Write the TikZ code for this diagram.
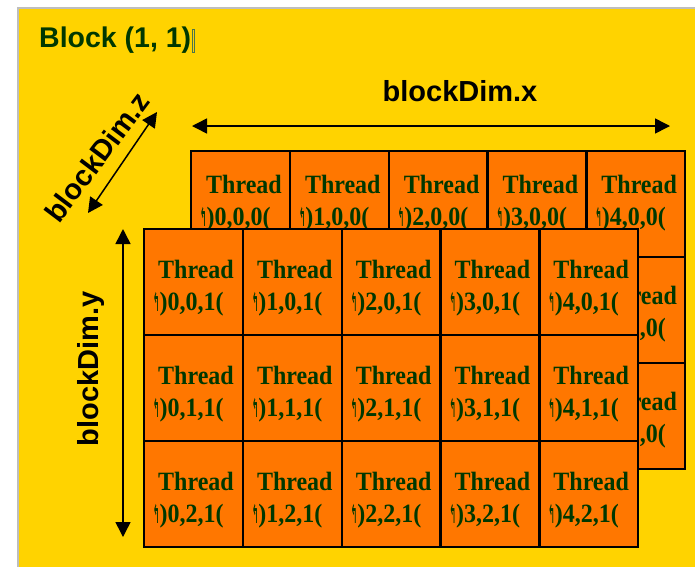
\documentclass[tikz,border=0pt]{standalone}
\usepackage{fontspec}
\setmainfont{Liberation Serif}
\setsansfont{Liberation Sans}
\newfontfamily\symfont{DejaVu Sans}
\usetikzlibrary{arrows.meta}

\definecolor{blockbg}{RGB}{255,211,0}
\definecolor{cellfill}{RGB}{255,119,0}
\definecolor{threadtext}{RGB}{0,56,0}
\definecolor{frameline}{RGB}{190,190,190}

% thin hooked mark in front of each thread index
\newcommand\hookmark{\raisebox{-1.5pt}{\scalebox{0.35}[1.05]{\symfont\fontsize{22}{22}\selectfont ↰}}}
% thread text, set slightly tall
\newcommand\tallbf[1]{\scalebox{1}[1.1]{#1}}

\tikzset{
  cell/.style={draw=black, line width=2.4pt, fill=cellfill,
    minimum width=98.8pt, minimum height=106pt, inner sep=0pt, anchor=north west},
  threadlbl/.style={font=\fontsize{24}{24}\selectfont\bfseries, text=threadtext,
    anchor=base west, inner sep=0pt},
  dimlbl/.style={font=\sffamily\bfseries\fontsize{29}{29}\selectfont, text=black, inner sep=0pt},
  dimarrow/.style={{Triangle[length=15pt,width=15pt]}-{Triangle[length=15pt,width=15pt]},
    line width=1.5pt},
}

\begin{document}
\begin{tikzpicture}[x=1pt, y=-1pt]
\useasboundingbox (0,0) rectangle (695,566);
\fill[white] (0,0) rectangle (695,566);

% block background
\draw[frameline, line width=2pt, fill=blockbg] (18,8) rectangle (720,590);
\node[font=\sffamily\bfseries\fontsize{28.5}{28.5}\selectfont, text=threadtext,
  anchor=base west, inner sep=0pt] (title) at (39,47) {Block (1, 1)};
\draw[threadtext!70, line width=0.6pt] (title.base east) ++(0.8,-18) rectangle ++(2.5,23);

% back layer (z = 0)
\foreach \i in {0,...,4} {
  \foreach \j in {0,1,2} {
    \node[cell] (b-\i-\j) at ({190+\i*98.8},{150+\j*106}) {};
  }
}
\foreach \i in {0,...,4} {
  \node[threadlbl] (bt-\i-0) at ({190+\i*98.8+16},{150+43}) {\tallbf{Thread}};
  \node[threadlbl] (bi-\i-0) at ({190+\i*98.8+10},{150+75}) {\tallbf{\hookmark)\i,0,0(}};
}
\begin{scope}
  \clip (638.5,230) rectangle (695,566);
  \foreach \j in {1,2} {
    \node[threadlbl] (bt-4-\j) at ({190+4*98.8+16},{150+\j*106+48}) {\tallbf{Thread}};
    \node[threadlbl] (bi-4-\j) at ({190+4*98.8+10},{150+\j*106+80}) {\tallbf{\hookmark)4,\j,0(}};
  }
\end{scope}

% front layer (z = 1)
\foreach \i in {0,...,4} {
  \foreach \j in {0,1,2} {
    \node[cell] (f-\i-\j) at ({143+\i*98.8},{228+\j*106}) {};
    \node[threadlbl] (ft-\i-\j) at ({143+\i*98.8+15},{228+\j*106+50}) {\tallbf{Thread}};
    \node[threadlbl] (fi-\i-\j) at ({143+\i*98.8+10},{228+\j*106+82}) {\tallbf{\hookmark)\i,\j,1(}};
  }
}

% dimension arrows
\coordinate (xl) at (192,126);
\coordinate (xr) at (670,126);
\draw[dimarrow] (xl) -- (xr);
\node[dimlbl] (xlbl) at (460,91) {blockDim.x};

\coordinate (yt) at (123,229);
\coordinate (yb) at (123,537);
\draw[dimarrow] (yt) -- (yb);
\node[dimlbl, rotate=90] (ylbl) at (91,369) {blockDim.y};

\coordinate (zt) at (157,112);
\coordinate (zb) at (88,213);
\draw[dimarrow] (zb) -- (zt);
\node[dimlbl, rotate=53] (zlbl) at (97,157) {blockDim.z};
\end{tikzpicture}
\end{document}
